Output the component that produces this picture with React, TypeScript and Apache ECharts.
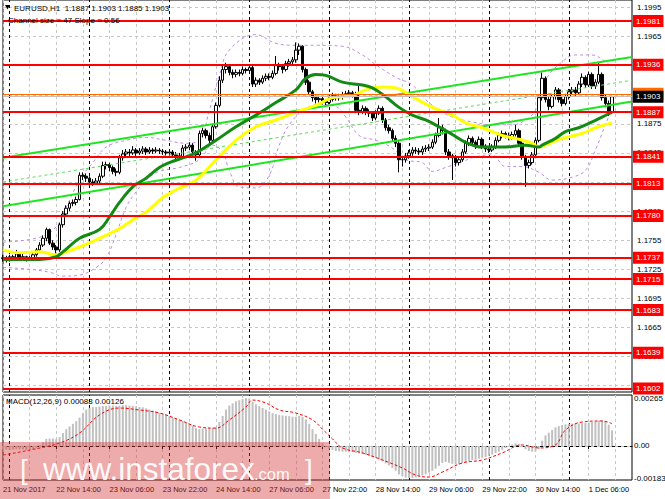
import React, { useEffect, useRef } from 'react';
import * as echarts from 'echarts';

const FONT = '"Liberation Sans", Arial, sans-serif';

const timeLabels = ['21 Nov 2017', '22 Nov 14:00', '23 Nov 06:00', '23 Nov 22:00', '24 Nov 14:00', '27 Nov 06:00', '27 Nov 22:00', '28 Nov 14:00', '29 Nov 06:00', '29 Nov 22:00', '30 Nov 14:00', '1 Dec 06:00'];
const barSlots = 190;

// [open, close, low, high]
const candles = [
  [1.1736, 1.1737, 1.1733, 1.1740], [1.1737, 1.1735, 1.1732, 1.1739], [1.1735, 1.1738, 1.1733, 1.1740], [1.1738, 1.1736, 1.1734, 1.1740],
  [1.1736, 1.1741, 1.1735, 1.1745], [1.1741, 1.1737, 1.1735, 1.1742], [1.1737, 1.1738, 1.1735, 1.1741], [1.1738, 1.1736, 1.1733, 1.1739],
  [1.1736, 1.1737, 1.1734, 1.1739], [1.1737, 1.1740, 1.1735, 1.1742], [1.1740, 1.1745, 1.1738, 1.1747], [1.1745, 1.1750, 1.1743, 1.1753],
  [1.1750, 1.1757, 1.1748, 1.1760], [1.1757, 1.1766, 1.1754, 1.1768], [1.1766, 1.1752, 1.1750, 1.1767], [1.1752, 1.1748, 1.1745, 1.1755],
  [1.1748, 1.1745, 1.1738, 1.1750], [1.1745, 1.1771, 1.1743, 1.1773], [1.1771, 1.1782, 1.1768, 1.1785], [1.1782, 1.1788, 1.1779, 1.1791],
  [1.1788, 1.1793, 1.1785, 1.1795], [1.1793, 1.1794, 1.1790, 1.1797], [1.1794, 1.1797, 1.1791, 1.1800], [1.1797, 1.1822, 1.1796, 1.1825],
  [1.1822, 1.1821, 1.1817, 1.1825], [1.1821, 1.1819, 1.1815, 1.1824], [1.1819, 1.1815, 1.1812, 1.1821], [1.1815, 1.1814, 1.1811, 1.1818],
  [1.1814, 1.1816, 1.1812, 1.1819], [1.1816, 1.1821, 1.1814, 1.1824], [1.1821, 1.1832, 1.1819, 1.1836], [1.1832, 1.1833, 1.1828, 1.1836],
  [1.1833, 1.1830, 1.1826, 1.1835], [1.1830, 1.1826, 1.1823, 1.1832], [1.1826, 1.1825, 1.1821, 1.1829], [1.1825, 1.1840, 1.1823, 1.1843],
  [1.1840, 1.1844, 1.1837, 1.1848], [1.1844, 1.1846, 1.1841, 1.1849], [1.1846, 1.1845, 1.1842, 1.1849], [1.1845, 1.1848, 1.1843, 1.1852],
  [1.1848, 1.1845, 1.1842, 1.1850], [1.1845, 1.1847, 1.1843, 1.1850], [1.1847, 1.1849, 1.1844, 1.1852], [1.1849, 1.1846, 1.1843, 1.1851],
  [1.1846, 1.1848, 1.1844, 1.1851], [1.1848, 1.1847, 1.1844, 1.1850], [1.1847, 1.1848, 1.1845, 1.1851], [1.1848, 1.1847, 1.1844, 1.1850],
  [1.1847, 1.1846, 1.1843, 1.1849], [1.1846, 1.1845, 1.1842, 1.1848], [1.1845, 1.1846, 1.1842, 1.1849], [1.1846, 1.1843, 1.1840, 1.1848],
  [1.1843, 1.1842, 1.1838, 1.1846], [1.1842, 1.1841, 1.1838, 1.1845], [1.1841, 1.1850, 1.1839, 1.1853], [1.1850, 1.1851, 1.1847, 1.1854],
  [1.1851, 1.1853, 1.1848, 1.1856], [1.1853, 1.1846, 1.1843, 1.1855], [1.1846, 1.1843, 1.1837, 1.1848], [1.1843, 1.1865, 1.1841, 1.1868],
  [1.1865, 1.1868, 1.1861, 1.1871], [1.1868, 1.1863, 1.1860, 1.1870], [1.1863, 1.1858, 1.1855, 1.1866], [1.1858, 1.1872, 1.1856, 1.1875],
  [1.1872, 1.1894, 1.1870, 1.1897], [1.1894, 1.1920, 1.1892, 1.1924], [1.1920, 1.1931, 1.1917, 1.1936], [1.1931, 1.1934, 1.1927, 1.1938],
  [1.1934, 1.1928, 1.1925, 1.1936], [1.1928, 1.1926, 1.1922, 1.1931], [1.1926, 1.1928, 1.1923, 1.1931], [1.1928, 1.1927, 1.1924, 1.1931],
  [1.1927, 1.1931, 1.1925, 1.1934], [1.1931, 1.1930, 1.1927, 1.1933], [1.1930, 1.1933, 1.1927, 1.1936], [1.1933, 1.1916, 1.1913, 1.1935],
  [1.1916, 1.1920, 1.1913, 1.1923], [1.1920, 1.1918, 1.1915, 1.1922], [1.1918, 1.1922, 1.1916, 1.1925], [1.1922, 1.1924, 1.1919, 1.1927],
  [1.1924, 1.1923, 1.1920, 1.1927], [1.1923, 1.1927, 1.1921, 1.1930], [1.1927, 1.1935, 1.1925, 1.1945], [1.1935, 1.1934, 1.1930, 1.1938],
  [1.1934, 1.1931, 1.1927, 1.1936], [1.1931, 1.1937, 1.1929, 1.1940], [1.1937, 1.1939, 1.1934, 1.1942], [1.1939, 1.1941, 1.1935, 1.1944],
  [1.1941, 1.1951, 1.1938, 1.1959], [1.1951, 1.1955, 1.1946, 1.1958], [1.1955, 1.1931, 1.1928, 1.1956], [1.1931, 1.1918, 1.1915, 1.1933],
  [1.1918, 1.1908, 1.1905, 1.1920], [1.1908, 1.1902, 1.1898, 1.1910], [1.1902, 1.1900, 1.1896, 1.1904], [1.1900, 1.1901, 1.1897, 1.1904],
  [1.1901, 1.1898, 1.1895, 1.1903], [1.1898, 1.1897, 1.1893, 1.1900], [1.1897, 1.1900, 1.1895, 1.1903], [1.1900, 1.1904, 1.1898, 1.1907],
  [1.1904, 1.1902, 1.1899, 1.1906], [1.1902, 1.1903, 1.1899, 1.1906], [1.1903, 1.1905, 1.1900, 1.1908], [1.1905, 1.1906, 1.1902, 1.1909],
  [1.1906, 1.1907, 1.1903, 1.1910], [1.1907, 1.1905, 1.1902, 1.1909], [1.1905, 1.1889, 1.1886, 1.1908], [1.1889, 1.1887, 1.1884, 1.1917],
  [1.1887, 1.1891, 1.1885, 1.1894], [1.1891, 1.1887, 1.1884, 1.1893], [1.1887, 1.1886, 1.1882, 1.1890], [1.1886, 1.1881, 1.1878, 1.1888],
  [1.1881, 1.1886, 1.1879, 1.1889], [1.1886, 1.1891, 1.1884, 1.1894], [1.1891, 1.1879, 1.1876, 1.1893], [1.1879, 1.1871, 1.1868, 1.1881],
  [1.1871, 1.1868, 1.1865, 1.1874], [1.1868, 1.1860, 1.1857, 1.1870], [1.1860, 1.1855, 1.1851, 1.1863], [1.1855, 1.1838, 1.1825, 1.1857],
  [1.1838, 1.1838, 1.1831, 1.1842], [1.1838, 1.1842, 1.1835, 1.1845], [1.1842, 1.1845, 1.1839, 1.1848], [1.1845, 1.1848, 1.1842, 1.1851],
  [1.1848, 1.1847, 1.1844, 1.1851], [1.1847, 1.1846, 1.1843, 1.1850], [1.1846, 1.1849, 1.1843, 1.1852], [1.1849, 1.1850, 1.1846, 1.1853],
  [1.1850, 1.1851, 1.1847, 1.1854], [1.1851, 1.1856, 1.1849, 1.1859], [1.1856, 1.1863, 1.1854, 1.1866], [1.1863, 1.1871, 1.1861, 1.1881],
  [1.1871, 1.1868, 1.1864, 1.1874], [1.1868, 1.1846, 1.1843, 1.1870], [1.1846, 1.1842, 1.1838, 1.1849], [1.1842, 1.1840, 1.1817, 1.1844],
  [1.1840, 1.1835, 1.1831, 1.1843], [1.1835, 1.1838, 1.1832, 1.1841], [1.1838, 1.1846, 1.1836, 1.1849], [1.1846, 1.1855, 1.1844, 1.1858],
  [1.1855, 1.1860, 1.1852, 1.1863], [1.1860, 1.1856, 1.1853, 1.1862], [1.1856, 1.1852, 1.1849, 1.1858], [1.1852, 1.1859, 1.1850, 1.1862],
  [1.1859, 1.1852, 1.1849, 1.1861], [1.1852, 1.1849, 1.1846, 1.1854], [1.1849, 1.1848, 1.1845, 1.1852], [1.1848, 1.1851, 1.1846, 1.1854],
  [1.1851, 1.1858, 1.1849, 1.1861], [1.1858, 1.1863, 1.1856, 1.1866], [1.1863, 1.1865, 1.1860, 1.1868], [1.1865, 1.1863, 1.1860, 1.1867],
  [1.1863, 1.1861, 1.1858, 1.1866], [1.1861, 1.1864, 1.1859, 1.1867], [1.1864, 1.1868, 1.1862, 1.1874], [1.1868, 1.1855, 1.1852, 1.1870],
  [1.1855, 1.1841, 1.1838, 1.1857], [1.1841, 1.1832, 1.1810, 1.1843], [1.1832, 1.1835, 1.1829, 1.1838], [1.1835, 1.1843, 1.1833, 1.1846],
  [1.1843, 1.1858, 1.1841, 1.1861], [1.1858, 1.1902, 1.1856, 1.1905], [1.1902, 1.1922, 1.1899, 1.1928], [1.1922, 1.1900, 1.1897, 1.1924],
  [1.1900, 1.1893, 1.1889, 1.1903], [1.1893, 1.1903, 1.1891, 1.1906], [1.1903, 1.1910, 1.1900, 1.1913], [1.1910, 1.1900, 1.1897, 1.1912],
  [1.1900, 1.1896, 1.1893, 1.1903], [1.1896, 1.1903, 1.1894, 1.1906], [1.1903, 1.1908, 1.1900, 1.1911], [1.1908, 1.1910, 1.1905, 1.1913],
  [1.1910, 1.1907, 1.1904, 1.1913], [1.1907, 1.1916, 1.1905, 1.1919], [1.1916, 1.1923, 1.1913, 1.1927], [1.1923, 1.1915, 1.1912, 1.1925],
  [1.1915, 1.1926, 1.1913, 1.1929], [1.1926, 1.1914, 1.1911, 1.1928], [1.1914, 1.1918, 1.1911, 1.1921], [1.1918, 1.1926, 1.1916, 1.1938],
  [1.1926, 1.1902, 1.1899, 1.1928], [1.1902, 1.1896, 1.1892, 1.1905], [1.1896, 1.1887, 1.1883, 1.1899], [1.1887, 1.1903, 1.1885, 1.1903],
];

const levels = [1.1981, 1.1936, 1.1887, 1.1841, 1.1813, 1.1780, 1.1737, 1.1715, 1.1683, 1.1639, 1.1602];
const priceTicks = [1.1995, 1.1965, 1.1935, 1.1905, 1.1875, 1.1845, 1.1815, 1.1785, 1.1755, 1.1725, 1.1695, 1.1665, 1.1635, 1.1605];
// tick labels that remain visible (the others sit fully under the level tags)
const priceTickLabels = [1.1995, 1.1965, 1.1875, 1.1845, 1.1785, 1.1755, 1.1725, 1.1695, 1.1665, 1.1635];
const bidPrice = 1.1903;
const orangeLevel = 1.1906;
const daySeparators = [2, 26, 50, 74, 98, 122, 146, 170];

// [bar, price] samples
const greenMA = [[0, 1.1735], [11, 1.1735], [16, 1.1738], [18, 1.1743], [23, 1.1757], [29, 1.1766], [32, 1.1779], [35, 1.1794], [39, 1.1810], [43, 1.1819], [47, 1.1830], [50, 1.1835], [55, 1.1841], [58, 1.1845], [64, 1.1858], [70, 1.1872], [76, 1.1884], [82, 1.1897], [88, 1.1910], [91, 1.1922], [94, 1.1926], [97, 1.1925], [102, 1.1918], [108, 1.1915], [111, 1.1912], [115, 1.1903], [119, 1.1892], [123, 1.1884], [127, 1.1879], [131, 1.1872], [135, 1.1864], [139, 1.1856], [144, 1.1851], [150, 1.1851], [157, 1.1853], [161, 1.1851], [162, 1.1853], [166, 1.1860], [169, 1.1867], [173, 1.1871], [177, 1.1877], [180, 1.1882], [183, 1.1887]];
const yellowMA = [[0, 1.1745], [5, 1.1742], [11, 1.1743], [16, 1.1740], [19, 1.1743], [23, 1.1748], [29, 1.1757], [35, 1.1767], [39, 1.1776], [43, 1.1784], [48, 1.1799], [52, 1.1807], [58, 1.1817], [64, 1.1838], [70, 1.1858], [76, 1.1872], [82, 1.1879], [88, 1.1887], [94, 1.1894], [99, 1.1902], [105, 1.1904], [109, 1.1910], [114, 1.1913], [118, 1.1912], [123, 1.1903], [129, 1.1892], [135, 1.1884], [139, 1.1876], [144, 1.1871], [150, 1.1863], [154, 1.1860], [159, 1.1855], [161, 1.1851], [163, 1.1853], [168, 1.1860], [174, 1.1865], [178, 1.1871], [183, 1.1876]];
const bandUpper = [[0, 1.1753], [11, 1.1758], [16, 1.1769], [19, 1.1789], [23, 1.1817], [27, 1.1835], [31, 1.1851], [37, 1.1858], [43, 1.1861], [49, 1.1858], [55, 1.1855], [59, 1.1858], [62, 1.1889], [65, 1.1925], [68, 1.1951], [76, 1.1967], [82, 1.1958], [88, 1.1956], [94, 1.1956], [102, 1.1955], [108, 1.1946], [112, 1.1936], [118, 1.1923], [123, 1.1915], [127, 1.1900], [132, 1.1887], [136, 1.1881], [141, 1.1877], [147, 1.1874], [153, 1.1874], [157, 1.1879], [160, 1.1889], [163, 1.1920], [168, 1.1939], [172, 1.1946], [177, 1.1946], [181, 1.1939], [183, 1.1933]];
const bandLower = [[0, 1.1727], [8, 1.1725], [14, 1.1722], [18, 1.1718], [23, 1.1719], [28, 1.1727], [31, 1.1737], [34, 1.1761], [37, 1.1789], [40, 1.1805], [43, 1.1817], [47, 1.1826], [53, 1.1830], [59, 1.1838], [63, 1.1853], [66, 1.1846], [68, 1.1827], [71, 1.1810], [76, 1.1809], [80, 1.1822], [83, 1.1853], [86, 1.1874], [91, 1.1891], [96, 1.1895], [100, 1.1893], [103, 1.1882], [107, 1.1863], [112, 1.1858], [117, 1.1850], [121, 1.1838], [126, 1.1835], [129, 1.1826], [133, 1.1830], [138, 1.1836], [142, 1.1841], [147, 1.1843], [151, 1.1831], [156, 1.1831], [161, 1.1825], [165, 1.1817], [171, 1.1820], [175, 1.1827], [178, 1.1848], [181, 1.1874], [183, 1.1891]];
const channelUpper = [[0, 1.1840], [189, 1.1944]];
const channelMiddle = [[0, 1.1815], [189, 1.1920]];
const channelLower = [[0, 1.1790], [189, 1.1898]];

const macdHist = [
  -0.00018, -0.00020, -0.00022, -0.00020, -0.00018, -0.00020, -0.00020, -0.00022, -0.00020, -0.00018,
  -0.00010, 0.00005, 0.00020, 0.00040, 0.00042, 0.00042, 0.00040, 0.00050, 0.00073, 0.00095,
  0.00110, 0.00125, 0.00140, 0.00160, 0.00185, 0.00205, 0.00215, 0.00220, 0.00220, 0.00222,
  0.00225, 0.00226, 0.00228, 0.00228, 0.00226, 0.00228, 0.00230, 0.00230, 0.00228, 0.00226,
  0.00224, 0.00220, 0.00218, 0.00212, 0.00206, 0.00200, 0.00195, 0.00188, 0.00182, 0.00175,
  0.00168, 0.00160, 0.00155, 0.00148, 0.00140, 0.00132, 0.00125, 0.00115, 0.00100, 0.00095,
  0.00098, 0.00100, 0.00102, 0.00102, 0.00105, 0.00135, 0.00170, 0.00205, 0.00228, 0.00240,
  0.00252, 0.00258, 0.00265, 0.00270, 0.00268, 0.00250, 0.00235, 0.00225, 0.00215, 0.00205,
  0.00195, 0.00185, 0.00180, 0.00175, 0.00172, 0.00170, 0.00168, 0.00165, 0.00165, 0.00170,
  0.00165, 0.00150, 0.00125, 0.00095, 0.00068, 0.00040, 0.00015, -0.00005, -0.00015, -0.00022,
  -0.00028, -0.00030, -0.00032, -0.00032, -0.00033, -0.00034, -0.00038, -0.00042, -0.00045, -0.00050,
  -0.00055, -0.00062, -0.00068, -0.00075, -0.00085, -0.00098, -0.00110, -0.00125, -0.00140, -0.00160,
  -0.00172, -0.00178, -0.00180, -0.00180, -0.00178, -0.00172, -0.00166, -0.00160, -0.00150, -0.00140,
  -0.00128, -0.00112, -0.00095, -0.00090, -0.00095, -0.00100, -0.00105, -0.00102, -0.00098, -0.00092,
  -0.00085, -0.00080, -0.00078, -0.00072, -0.00068, -0.00062, -0.00055, -0.00048, -0.00040, -0.00032,
  -0.00022, -0.00012, -0.00002, 0.00008, 0.00015, 0.00012, -0.00005, -0.00018, -0.00028, -0.00032,
  -0.00030, -0.00018, 0.00030, 0.00060, 0.00075, 0.00090, 0.00105, 0.00112, 0.00118, 0.00122,
  0.00125, 0.00126, 0.00125, 0.00126, 0.00128, 0.00130, 0.00132, 0.00135, 0.00138, 0.00142,
  0.00145, 0.00140, 0.00120, 0.00088,
];
const macdSignal = [[0, -0.00051], [8, -0.00023], [17, 0.00017], [23, 0.00073], [29, 0.00175], [35, 0.00214], [41, 0.00203], [47, 0.00186], [53, 0.00147], [59, 0.00107], [64, 0.00101], [68, 0.00147], [73, 0.00220], [75, 0.00259], [79, 0.00242], [83, 0.00203], [88, 0.00186], [93, 0.00147], [96, 0.00095], [99, 0.00040], [102, -0.00011], [108, -0.00039], [114, -0.00079], [120, -0.00124], [124, -0.00164], [128, -0.00175], [132, -0.00147], [138, -0.00096], [144, -0.00079], [150, -0.00039], [156, 0.00006], [161, -0.00011], [166, 0.00006], [169, 0.00090], [174, 0.00135], [180, 0.00141], [183, 0.00126]];
const macdScale = [0.00265, 0, -0.00183];

function buildOption() {
  const categories = Array.from({ length: barSlots }, (_, i) => String(i));
  const last = candles[candles.length - 1];
  const f4 = (v: number) => v.toFixed(4);
  const gridLine = { color: '#c8c8c8', type: [3, 3], width: 1 };
  const clearLine = { color: 'rgba(0,0,0,0)', width: 1, type: 'solid' };
  const xSplit = { show: true, interval: (i: number) => i % 8 === 0, lineStyle: gridLine };
  const hiddenY = { axisLine: { show: false }, axisTick: { show: false }, axisLabel: { show: false }, splitLine: { show: false } };

  const line = (data: number[][], color: string, width: number, type: any, smooth: number | boolean, z: number) => ({
    type: 'line', xAxisIndex: 0, yAxisIndex: 0, data, symbol: 'none', smooth, silent: true, z,
    lineStyle: { color, width, type },
  });

  const levelLabel = (bg: string) => ({
    position: 'end', distance: 1, backgroundColor: bg, color: '#fff', padding: [2, 3, 2, 3], fontSize: 8, fontFamily: FONT,
    formatter: (p: any) => f4(p.value),
  });

  return {
    animation: false,
    backgroundColor: '#ffffff',
    textStyle: { fontFamily: FONT },
    grid: [
      { left: 3, top: 0, width: 629, height: 392, show: true, borderColor: '#000', borderWidth: 1, backgroundColor: '#fff' },
      { left: 3, top: 395, width: 629, height: 85, show: true, borderColor: '#000', borderWidth: 1, backgroundColor: '#fff' },
    ],
    xAxis: [
      { type: 'category', gridIndex: 0, data: categories, boundaryGap: false, axisLine: { show: false }, axisTick: { show: false }, axisLabel: { show: false }, splitLine: xSplit },
      {
        type: 'category', gridIndex: 1, data: categories, boundaryGap: false,
        axisLine: { show: true, lineStyle: { color: '#000' } },
        axisTick: { show: true, interval: (i: number) => i % 16 === 0, length: 3, lineStyle: { color: '#000' } },
        axisLabel: {
          show: true, interval: (i: number) => i % 16 === 0, align: 'left', margin: 5, fontSize: 7.5, color: '#000', fontFamily: FONT,
          formatter: (_v: string, i: number) => timeLabels[i / 16] ?? '',
        },
        splitLine: xSplit,
      },
    ],
    yAxis: [
      { type: 'value', gridIndex: 0, position: 'right', min: 1.15985, max: 1.20027, scale: true, ...hiddenY },
      { type: 'value', gridIndex: 1, position: 'right', min: -0.001917, max: 0.002875, ...hiddenY },
    ],
    series: [
      {
        type: 'line', xAxisIndex: 0, yAxisIndex: 0, data: [], silent: true,
        markLine: {
          symbol: 'none', silent: true, z: 1, precision: 5, lineStyle: gridLine,
          label: { show: false },
          data: priceTicks.map((v) => ({ yAxis: v })),
        },
      },
      {
        type: 'line', xAxisIndex: 0, yAxisIndex: 0, data: [], silent: true,
        markLine: {
          symbol: 'none', silent: true, z: 1, precision: 5, lineStyle: clearLine,
          label: { position: 'end', distance: 5, color: '#000', fontSize: 8, fontFamily: FONT, formatter: (p: any) => f4(p.value) },
          data: priceTickLabels.map((v) => ({ yAxis: v })),
        },
      },
      {
        type: 'line', xAxisIndex: 0, yAxisIndex: 0, data: [], silent: true,
        markLine: { symbol: 'none', silent: true, z: 1, lineStyle: { color: '#000', type: [3, 3], width: 1 }, label: { show: false }, data: daySeparators.map((i) => ({ xAxis: i })) },
      },
      {
        type: 'line', xAxisIndex: 1, yAxisIndex: 1, data: [], silent: true,
        markLine: { symbol: 'none', silent: true, z: 1, lineStyle: { color: '#000', type: [3, 3], width: 1 }, label: { show: false }, data: daySeparators.map((i) => ({ xAxis: i })) },
      },
      line(bandUpper, '#c08ae6', 1, [3, 3], 0.4, 2),
      line(bandLower, '#c08ae6', 1, [3, 3], 0.4, 2),
      {
        type: 'candlestick', xAxisIndex: 0, yAxisIndex: 0, data: candles, barWidth: 3, z: 3, silent: true,
        itemStyle: { color: '#ffffff', color0: '#000000', borderColor: '#000000', borderColor0: '#000000', borderWidth: 1 },
      },
      line(channelUpper, '#1ee61e', 2, 'solid', false, 4),
      line(channelLower, '#1ee61e', 2, 'solid', false, 4),
      line(channelMiddle, '#55e055', 1, [3, 3], false, 4),
      line(yellowMA, '#ffff00', 3, 'solid', 0.4, 4),
      line(greenMA, '#138a13', 3, 'solid', 0.4, 4),
      {
        type: 'line', xAxisIndex: 0, yAxisIndex: 0, data: [], silent: true,
        markLine: {
          symbol: 'none', silent: true, z: 6, precision: 5, lineStyle: { color: '#ff0000', width: 2, type: 'solid' },
          label: levelLabel('#ff0000'),
          data: levels.map((v) => ({ yAxis: v })),
        },
      },
      {
        type: 'line', xAxisIndex: 0, yAxisIndex: 0, data: [], silent: true,
        markLine: {
          symbol: 'none', silent: true, z: 7, precision: 5, lineStyle: { color: '#ff6a00', width: 1, type: 'solid' },
          label: levelLabel('#ff6a00'),
          data: [{ yAxis: orangeLevel }],
        },
      },
      {
        type: 'line', xAxisIndex: 0, yAxisIndex: 0, data: [], silent: true,
        markLine: {
          symbol: 'none', silent: true, z: 8, precision: 5, lineStyle: { color: '#c0c0c0', width: 1, type: 'solid' },
          label: levelLabel('#000000'),
          data: [{ yAxis: bidPrice }],
        },
      },
      {
        type: 'bar', xAxisIndex: 1, yAxisIndex: 1, data: macdHist, barWidth: 2, silent: true, z: 2,
        itemStyle: { color: '#c0c0c0' },
      },
      {
        type: 'line', xAxisIndex: 1, yAxisIndex: 1, data: macdSignal, symbol: 'none', smooth: 0.4, silent: true, z: 3,
        lineStyle: { color: '#ff0000', width: 1, type: [3, 2] },
      },
      {
        type: 'line', xAxisIndex: 1, yAxisIndex: 1, data: [], silent: true,
        markLine: {
          symbol: 'none', silent: true, z: 1, precision: 6,
          label: { position: 'end', distance: 2, color: '#000', fontSize: 8, fontFamily: FONT, formatter: (p: any) => (p.value === 0 ? '0.00' : p.value.toFixed(5)) },
          data: macdScale.map((v) => ({ yAxis: v, lineStyle: v === 0 ? gridLine : clearLine })),
        },
      },
    ],
    graphic: [
      { type: 'polygon', shape: { points: [[5, 5], [10, 5], [7.5, 9.5]] }, style: { fill: '#000' }, z: 50 },
      { type: 'text', x: 14, y: 8, style: { text: `EURUSD,H1  ${f4(last[0])} ${f4(last[3])} ${f4(last[2])} ${f4(last[1])}`, fill: '#000', fontSize: 8, fontFamily: FONT, verticalAlign: 'middle' }, z: 50 },
      { type: 'text', x: 8, y: 20, style: { text: 'Channel size = 47 Slope = 0.56', fill: '#000', fontSize: 8, fontFamily: FONT, verticalAlign: 'middle' }, z: 50 },
      { type: 'text', x: 6, y: 401, style: { text: `MACD(12,26,9) ${macdHist[macdHist.length - 1].toFixed(5)} ${macdSignal[macdSignal.length - 1][1].toFixed(5)}`, fill: '#000', fontSize: 8, fontFamily: FONT, verticalAlign: 'middle' }, z: 50 },
      { type: 'rect', shape: { x: 0, y: 442, width: 330, height: 57 }, style: { fill: 'rgba(215,55,55,0.42)' }, z: 60 },
      { type: 'text', x: 20, y: 469, style: { text: '[', fill: 'rgba(255,255,255,0.92)', fontSize: 28, fontFamily: FONT, verticalAlign: 'middle' }, z: 61 },
      { type: 'text', x: 43, y: 469, style: { text: 'www.instaforex', fill: 'rgba(255,255,255,0.95)', fontSize: 31.5, fontFamily: FONT, verticalAlign: 'middle' }, z: 61 },
      { type: 'text', x: 254, y: 474, style: { text: '.com', fill: 'rgba(255,255,255,0.95)', fontSize: 16.5, fontFamily: FONT, verticalAlign: 'middle' }, z: 61 },
      { type: 'text', x: 305, y: 469, style: { text: ']', fill: 'rgba(255,255,255,0.92)', fontSize: 28, fontFamily: FONT, verticalAlign: 'middle' }, z: 61 },
    ],
  };
}

export default function App() {
  const ref = useRef<HTMLDivElement>(null);
  useEffect(() => {
    const chart = echarts.init(ref.current as HTMLDivElement, undefined, { renderer: 'svg' });
    chart.setOption(buildOption() as any);
    return () => chart.dispose();
  }, []);
  return <div ref={ref} style={{ position: 'fixed', left: 0, top: 0, width: 665, height: 499, background: '#fff' }} />;
}
